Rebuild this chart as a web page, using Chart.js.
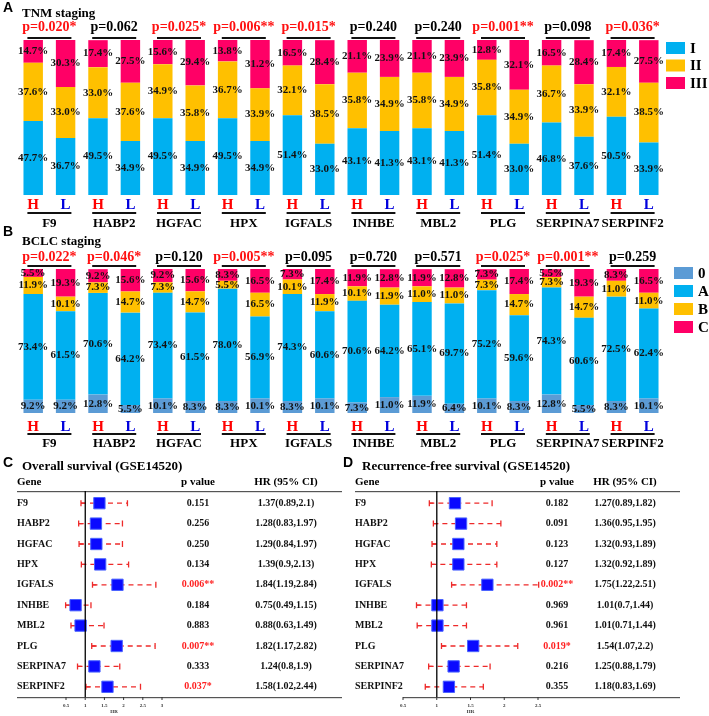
<!DOCTYPE html>
<html>
<head>
<meta charset="utf-8">
<script src="https://cdn.jsdelivr.net/npm/chart.js@4.4.1/dist/chart.umd.min.js"></script>
<style>
  html, body { margin: 0; padding: 0; background: #fff; }
  #wrap { position: relative; width: 709px; height: 716px; overflow: hidden; }
  canvas { position: absolute; }
</style>
</head>
<body>
<div id="wrap">
  <canvas id="chartTNM" width="709" height="232" style="left:0;top:0"></canvas>
  <canvas id="chartBCLC" width="709" height="226" style="left:0;top:226px"></canvas>
  <canvas id="chartOS" width="350" height="264" style="left:0;top:452px"></canvas>
  <canvas id="chartRFS" width="369" height="264" style="left:340px;top:452px"></canvas>
</div>
<script>
const genes = ['F9', 'HABP2', 'HGFAC', 'HPX', 'IGFALS', 'INHBE', 'MBL2', 'PLG', 'SERPINA7', 'SERPINF2'];

// staging percentages, H then L for each gene
const tnmI   = [47.7, 36.7, 49.5, 34.9, 49.5, 34.9, 49.5, 34.9, 51.4, 33.0, 43.1, 41.3, 43.1, 41.3, 51.4, 33.0, 46.8, 37.6, 50.5, 33.9];
const tnmII  = [37.6, 33.0, 33.0, 37.6, 34.9, 35.8, 36.7, 33.9, 32.1, 38.5, 35.8, 34.9, 35.8, 34.9, 35.8, 34.9, 36.7, 33.9, 32.1, 38.5];
const tnmIII = [14.7, 30.3, 17.4, 27.5, 15.6, 29.4, 13.8, 31.2, 16.5, 28.4, 21.1, 23.9, 21.1, 23.9, 12.8, 32.1, 16.5, 28.4, 17.4, 27.5];
const tnmP = [0.020, 0.062, 0.025, 0.006, 0.015, 0.240, 0.240, 0.001, 0.098, 0.036];

const bclc0 = [9.2, 9.2, 12.8, 5.5, 10.1, 8.3, 8.3, 10.1, 8.3, 10.1, 7.3, 11.0, 11.9, 6.4, 10.1, 8.3, 12.8, 5.5, 8.3, 10.1];
const bclcA = [73.4, 61.5, 70.6, 64.2, 73.4, 61.5, 78.0, 56.9, 74.3, 60.6, 70.6, 64.2, 65.1, 69.7, 75.2, 59.6, 74.3, 60.6, 72.5, 62.4];
const bclcB = [11.9, 10.1, 7.3, 14.7, 7.3, 14.7, 5.5, 16.5, 10.1, 11.9, 10.1, 11.9, 11.0, 11.0, 7.3, 14.7, 7.3, 14.7, 11.0, 11.0];
const bclcC = [5.5, 19.3, 9.2, 15.6, 9.2, 15.6, 8.3, 16.5, 7.3, 17.4, 11.9, 12.8, 11.9, 12.8, 7.3, 17.4, 5.5, 19.3, 8.3, 16.5];
const bclcP = [0.022, 0.046, 0.120, 0.005, 0.095, 0.720, 0.571, 0.025, 0.001, 0.259];

// forest plots
const osHR   = [1.37, 1.28, 1.29, 1.39, 1.84, 0.75, 0.88, 1.82, 1.24, 1.58];
const osLow  = [0.89, 0.83, 0.84, 0.9, 1.19, 0.49, 0.63, 1.17, 0.8, 1.02];
const osHigh = [2.1, 1.97, 1.97, 2.13, 2.84, 1.15, 1.49, 2.82, 1.9, 2.44];
const osP    = [0.151, 0.256, 0.250, 0.134, 0.006, 0.184, 0.883, 0.007, 0.333, 0.037];
const osTicks = [0.5, 1, 1.5, 2, 2.5, 3];

const rfsHR   = [1.27, 1.36, 1.32, 1.32, 1.75, 1.01, 1.01, 1.54, 1.25, 1.18];
const rfsLow  = [0.89, 0.95, 0.93, 0.92, 1.22, 0.7, 0.71, 1.07, 0.88, 0.83];
const rfsHigh = [1.82, 1.95, 1.89, 1.89, 2.51, 1.44, 1.44, 2.2, 1.79, 1.69];
const rfsP    = [0.182, 0.091, 0.123, 0.127, 0.002, 0.969, 0.961, 0.019, 0.216, 0.355];
const rfsTicks = [0.5, 1, 1.5, 2, 2.5];

const hlLabels = genes.flatMap(() => ['H', 'L']);
const SERIF = '"Liberation Serif", "Times New Roman", serif';
const SANS = '"Liberation Sans", Arial, sans-serif';

function stars(p) {
  return p < 0.01 ? '**' : (p < 0.05 ? '*' : '');
}

// percentage text in the middle of each stacked segment
const segmentLabels = {
  id: 'segmentLabels',
  afterDatasetsDraw(chart) {
    const ctx = chart.ctx;
    ctx.save();
    ctx.font = 'bold 11px ' + SERIF;
    ctx.fillStyle = '#111';
    ctx.textAlign = 'center';
    ctx.textBaseline = 'middle';
    chart.data.datasets.forEach((ds, i) => {
      chart.getDatasetMeta(i).data.forEach((bar, j) => {
        const { x, y, base } = bar.getProps(['x', 'y', 'base'], true);
        ctx.fillText(ds.data[j].toFixed(1) + '%', x, (y + base) / 2);
      });
    });
    ctx.restore();
  }
};

function stagingDecor(cfg) {
  return {
    id: 'stagingDecor',
    afterDraw(chart) {
      const ctx = chart.ctx;
      const xs = chart.scales.x;
      ctx.save();
      ctx.textBaseline = 'middle';
      ctx.fillStyle = '#000';
      ctx.textAlign = 'left';
      ctx.font = 'bold 14px ' + SANS;
      ctx.fillText(cfg.letter, 3, cfg.letterY);
      ctx.font = 'bold 13px ' + SERIF;
      ctx.fillText(cfg.title, 22, cfg.titleY);

      genes.forEach((g, i) => {
        const xh = xs.getPixelForValue(2 * i);
        const xl = xs.getPixelForValue(2 * i + 1);
        const cx = (xh + xl) / 2;
        const p = cfg.pValues[i];
        ctx.textAlign = 'center';
        ctx.font = 'bold 14px ' + SERIF;
        ctx.fillStyle = p < 0.05 ? '#ff1010' : '#000';
        ctx.fillText('p=' + p.toFixed(3) + stars(p), cx, cfg.pY);
        ctx.fillStyle = '#111';
        ctx.fillRect(cx - 22, cfg.pLineY - 1, 44, 2);
        ctx.fillRect(cx - 22, cfg.hlLineY - 1, 44, 2);
        ctx.font = 'bold 15px ' + SERIF;
        ctx.fillStyle = '#ff0000';
        ctx.fillText('H', xh, cfg.hlY);
        ctx.fillStyle = '#0000dd';
        ctx.fillText('L', xl, cfg.hlY);
        ctx.fillStyle = '#000';
        ctx.font = 'bold 13px ' + SERIF;
        ctx.fillText(g, cx, cfg.geneY);
      });

      // legend
      ctx.textAlign = 'left';
      ctx.font = 'bold 15px ' + SERIF;
      chart.data.datasets.forEach((ds, i) => {
        const y = cfg.legendY + i * cfg.legendStep;
        ctx.fillStyle = ds.backgroundColor;
        ctx.fillRect(cfg.legendX, y - 6, 19, 12);
        ctx.fillStyle = '#000';
        ctx.fillText(ds.label, cfg.legendX + 24, y + 1);
      });
      ctx.restore();
    }
  };
}

function stagingChart(id, datasets, padding, decor) {
  return new Chart(document.getElementById(id), {
    type: 'bar',
    data: { labels: hlLabels, datasets },
    options: {
      responsive: false,
      animation: false,
      events: [],
      layout: { padding },
      datasets: { bar: { categoryPercentage: 1, barPercentage: 0.6, borderWidth: 0 } },
      scales: {
        x: { display: false, stacked: true },
        y: { display: false, stacked: true, min: 0, max: 100 }
      },
      plugins: { legend: { display: false }, tooltip: { enabled: false } }
    },
    plugins: [segmentLabels, stagingDecor(decor)]
  });
}

stagingChart('chartTNM', [
  { label: 'I', data: tnmI, backgroundColor: '#00b0f0' },
  { label: 'II', data: tnmII, backgroundColor: '#ffc000' },
  { label: 'III', data: tnmIII, backgroundColor: '#ff0066' }
], { left: 17, right: 44, top: 40, bottom: 37 }, {
  letter: 'A', letterY: 8, title: 'TNM staging', titleY: 14,
  pValues: tnmP, pY: 27, pLineY: 38, hlY: 205, hlLineY: 213, geneY: 224,
  legendX: 666, legendY: 48, legendStep: 17.5
});

stagingChart('chartBCLC', [
  { label: '0', data: bclc0, backgroundColor: '#5b9bd5' },
  { label: 'A', data: bclcA, backgroundColor: '#00b0f0' },
  { label: 'B', data: bclcB, backgroundColor: '#ffc000' },
  { label: 'C', data: bclcC, backgroundColor: '#ff0066' }
], { left: 17, right: 44, top: 43, bottom: 39 }, {
  letter: 'B', letterY: 6, title: 'BCLC staging', titleY: 16,
  pValues: bclcP, pY: 31, pLineY: 40, hlY: 201, hlLineY: 208, geneY: 218,
  legendX: 674, legendY: 47, legendStep: 18
});

function forestDecor(cfg) {
  return {
    id: 'forestDecor',
    beforeDatasetsDraw(chart) {
      const ctx = chart.ctx;
      const xs = chart.scales.x, ys = chart.scales.y;
      ctx.save();
      ctx.strokeStyle = '#ee2a2a';
      ctx.lineWidth = 1.3;
      cfg.hr.forEach((v, i) => {
        const y = ys.getPixelForValue(i);
        const x0 = xs.getPixelForValue(cfg.low[i]);
        const x1 = xs.getPixelForValue(cfg.high[i]);
        ctx.setLineDash([5, 4]);
        ctx.beginPath();
        ctx.moveTo(x0, y);
        ctx.lineTo(x1, y);
        ctx.stroke();
        ctx.setLineDash([]);
        ctx.beginPath();
        ctx.moveTo(x0, y - 3); ctx.lineTo(x0, y + 3);
        ctx.moveTo(x0, y); ctx.lineTo(x0 + 4, y);
        ctx.moveTo(x1, y - 3); ctx.lineTo(x1, y + 3);
        ctx.stroke();
      });
      ctx.restore();
    },
    afterDraw(chart) {
      const ctx = chart.ctx;
      const { chartArea } = chart;
      const xs = chart.scales.x, ys = chart.scales.y;
      ctx.save();
      ctx.textBaseline = 'middle';
      ctx.fillStyle = '#000';
      ctx.textAlign = 'left';
      ctx.font = 'bold 14px ' + SANS;
      ctx.fillText(cfg.letter, 3, 11);
      ctx.font = 'bold 13px ' + SERIF;
      ctx.fillText(cfg.title, 22, 15);

      // header
      ctx.font = 'bold 11px ' + SERIF;
      ctx.fillText('Gene', cfg.geneX, 30);
      ctx.textAlign = 'center';
      ctx.fillText('p value', cfg.pX, 30);
      ctx.fillText('HR (95% CI)', cfg.hrX, 30);
      ctx.fillStyle = '#555';
      ctx.fillRect(cfg.lineX0, 39, cfg.lineX1 - cfg.lineX0, 1.2);
      const axisStart = cfg.axisX0 != null ? cfg.axisX0 : xs.getPixelForValue(cfg.ticks[0]);
      ctx.fillRect(axisStart, chartArea.bottom, cfg.lineX1 - axisStart, 1.2);

      // HR = 1 reference line
      ctx.fillStyle = '#000';
      const x1 = xs.getPixelForValue(1);
      ctx.fillRect(x1 - 0.6, 39, 1.3, chartArea.bottom - 39);

      // ticks
      ctx.font = 'bold 5px ' + SERIF;
      ctx.fillStyle = '#333';
      cfg.ticks.forEach(t => {
        const x = xs.getPixelForValue(t);
        ctx.fillRect(x - 0.5, chartArea.bottom, 1, 3);
        ctx.fillText(String(t), x, chartArea.bottom + 9);
      });
      const mid = (xs.getPixelForValue(cfg.ticks[0]) + xs.getPixelForValue(cfg.ticks[cfg.ticks.length - 1])) / 2;
      ctx.fillText('HR', mid, chartArea.bottom + 15);

      // rows
      ctx.font = 'bold 10px ' + SERIF;
      genes.forEach((g, i) => {
        const y = ys.getPixelForValue(i);
        ctx.textAlign = 'left';
        ctx.fillStyle = '#111';
        ctx.fillText(g, cfg.geneX, y);
        ctx.textAlign = 'center';
        const p = cfg.pvals[i];
        ctx.fillStyle = p < 0.05 ? '#ff2020' : '#111';
        ctx.fillText(p.toFixed(3) + stars(p), cfg.pX, y);
        ctx.fillStyle = '#111';
        ctx.fillText(cfg.hr[i] + '(' + cfg.low[i] + ',' + cfg.high[i] + ')', cfg.hrX, y);
      });
      ctx.restore();
    }
  };
}

function forestChart(id, hr, low, high, pvals, ticks, padding, decor) {
  return new Chart(document.getElementById(id), {
    type: 'scatter',
    data: {
      datasets: [{
        data: hr.map((v, i) => ({ x: v, y: genes[i] })),
        pointStyle: 'rect',
        pointRadius: 8,
        backgroundColor: '#0a0aff',
        borderColor: '#4a63ff',
        borderWidth: 1
      }]
    },
    options: {
      responsive: false,
      animation: false,
      events: [],
      layout: { padding },
      scales: {
        x: { display: false, type: 'linear', min: ticks[0], max: ticks[ticks.length - 1] },
        y: { display: false, type: 'category', labels: genes, offset: true }
      },
      plugins: { legend: { display: false }, tooltip: { enabled: false } }
    },
    plugins: [forestDecor(Object.assign({ hr, low, high, pvals, ticks }, decor))]
  });
}

forestChart('chartOS', osHR, osLow, osHigh, osP, osTicks,
  { left: 66, right: 188, top: 41, bottom: 19 },
  { letter: 'C', title: 'Overall survival (GSE14520)', geneX: 17, pX: 198, hrX: 286, lineX0: 17, lineX1: 342, axisX0: 17 });

forestChart('chartRFS', rfsHR, rfsLow, rfsHigh, rfsP, rfsTicks,
  { left: 63, right: 171, top: 41, bottom: 19 },
  { letter: 'D', title: 'Recurrence-free survival (GSE14520)', geneX: 15, pX: 217, hrX: 285, lineX0: 15, lineX1: 340, axisX0: null });
</script>
</body>
</html>
